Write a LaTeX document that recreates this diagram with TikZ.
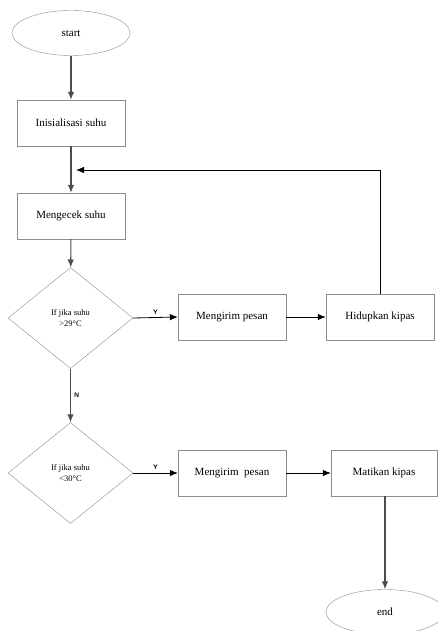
\documentclass[tikz,border=0pt]{standalone}
\usepackage{fontspec}
\setmainfont{Liberation Serif}
\usetikzlibrary{shapes.geometric,arrows.meta,positioning}
\tikzset{
  proses/.style={draw=black!45, rectangle, minimum width=108pt, minimum height=46pt, inner sep=0pt, font=\fontsize{11}{13}\selectfont},
  terminal/.style={draw=black!45, ellipse, minimum width=118pt, minimum height=45pt, inner sep=0pt, font=\fontsize{11}{13}\selectfont},
  keputusan/.style={draw=black!45, diamond, minimum width=125pt, minimum height=101pt, inner sep=0pt, align=center, font=\fontsize{8.5}{11}\selectfont},
  panah/.style={-{Latex[length=8pt,width=6.5pt]}, line width=0.8pt},
  turun/.style={panah, draw=black!70, line width=1.1pt},
  yn/.style={font=\sffamily\bfseries\fontsize{6.5}{7}\selectfont, inner sep=3pt}
}
\begin{document}
\begin{tikzpicture}[x=1pt,y=-1pt]
	\useasboundingbox (0,0) rectangle (438,631);
	\clip (0,0) rectangle (438,631);

	% kolom kiri
	\node[terminal] (mulai) at (71,33) {start};
	\node[proses] (inis) at (71,123) {Inisialisasi suhu};
	\node[proses] (cek) at (71,216) {Mengecek suhu};
	\node[keputusan] (jika1) at (70.5,318) {If jika suhu\\ >29°C};
	\node[keputusan] (jika2) at (70.5,473) {If jika suhu\\ <30°C};

	% baris kanan
	\node[proses] (kirim1) at (232,317) {Mengirim pesan};
	\node[proses] (hidup) at (380,317) {Hidupkan kipas};
	\node[proses] (kirim2) at (232,473) {Mengirim\ \ pesan};
	\node[proses, minimum width=106pt] (mati) at (384,473) {Matikan kipas};
	\node[terminal] (selesai) at (385,612) {end};

	\coordinate (balik) at (76,170);

	\draw[turun] (mulai) -- (inis);
	\draw[turun] (inis) -- (cek);
	\draw[turun] (cek) -- (jika1);
	\draw[turun] (jika1) -- node[right, yn] {N} (jika2);
	\draw[turun] (mati.south -| selesai) -- (selesai);

	\draw[panah] (jika1.east) -- node[above, yn] {Y} (kirim1.west);
	\draw[panah] (kirim1) -- (hidup);
	\draw[panah] (hidup.north) |- (balik);
	\draw[panah] (jika2.east) -- node[above, yn] {Y} (kirim2.west);
	\draw[panah] (kirim2) -- (mati);
\end{tikzpicture}
\end{document}
